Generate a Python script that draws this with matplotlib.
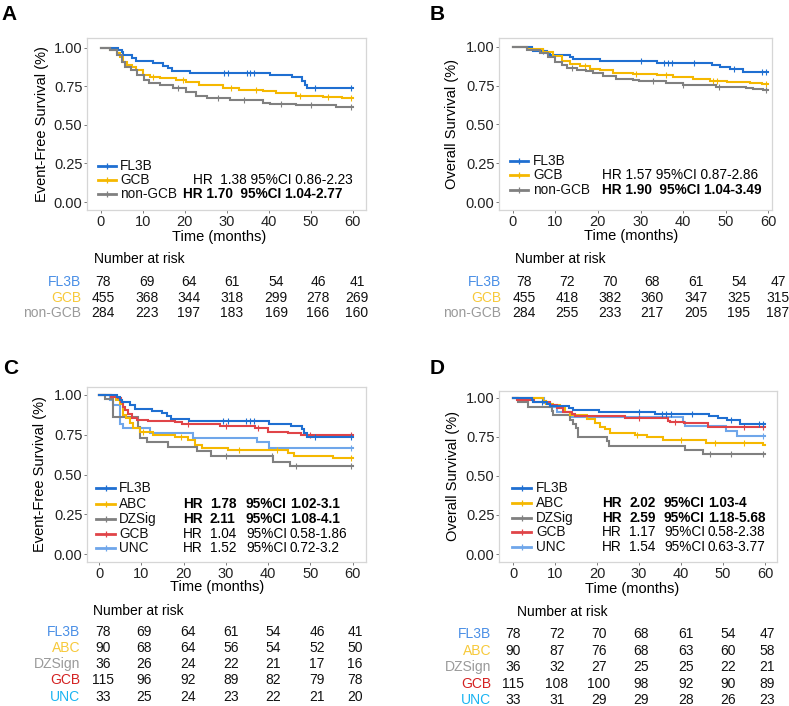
import numpy as np
import matplotlib
matplotlib.use("Agg")
import matplotlib.pyplot as plt
from matplotlib.lines import Line2D

plt.rcParams['font.family'] = ['Liberation Sans', 'DejaVu Sans']

W, H = 789, 706

# ---------------- data ----------------
times_ticks = [0, 10, 20, 30, 40, 50, 60]
yticks = [0.0, 0.25, 0.5, 0.75, 1.0]
ytick_labels = ["0.00", "0.25", "0.50", "0.75", "1.00"]

# Panel A: Event-free survival, FL3B / GCB / non-GCB
A_FL3B_t = [0, 4.2, 5.0, 5.4, 7.4, 8.5, 12.5, 14.8, 16.0, 17.0, 21.3, 40.3, 45.5, 47.9, 48.6, 49.2, 60]
A_FL3B_s = [1.0, 0.985, 0.97, 0.955, 0.936, 0.914, 0.899, 0.884, 0.867, 0.849, 0.836, 0.82, 0.807, 0.785, 0.759, 0.737, 0.737]
A_FL3B_c = [29.4, 30.4, 34.8, 35.6, 36.6, 51.0, 59.5]
A_GCB_t = [0, 2.2, 3.8, 4.6, 5.4, 6.2, 7.4, 8.5, 10.1, 11.7, 14.1, 18.0, 20.4, 23.5, 29.1, 33.0, 38.6, 41.8, 46.5, 52.9, 57.5, 60]
A_GCB_s = [1.0, 0.985, 0.964, 0.942, 0.906, 0.888, 0.873, 0.856, 0.823, 0.808, 0.802, 0.791, 0.78, 0.759, 0.742, 0.729, 0.72, 0.705, 0.69, 0.681, 0.673, 0.673]
A_GCB_c = [12.5, 19.5, 31.0, 37.0, 47.5, 54.0, 59.5]
A_NON_t = [0, 2.2, 3.8, 5.1, 5.9, 7.1, 8.7, 10.3, 11.5, 14.1, 17.3, 20.4, 22.8, 25.2, 29.1, 30.7, 35.4, 38.6, 40.2, 46.5, 56.0, 60]
A_NON_s = [1.0, 0.985, 0.953, 0.91, 0.878, 0.856, 0.823, 0.791, 0.77, 0.759, 0.737, 0.716, 0.69, 0.677, 0.673, 0.664, 0.66, 0.64, 0.634, 0.63, 0.617, 0.617]
A_NON_c = [18.5, 28.0, 34.0, 43.0, 50.0, 59.5]

# Panel B: Overall survival, FL3B / GCB / non-GCB
B_FL3B_t = [0, 4.5, 4.8, 8.0, 8.7, 13.4, 14.2, 20.5, 33.8, 46.7, 48.7, 51.0, 54.1, 60]
B_FL3B_s = [1.0, 0.987, 0.974, 0.962, 0.949, 0.936, 0.923, 0.91, 0.897, 0.884, 0.872, 0.859, 0.835, 0.835]
B_FL3B_c = [7.0, 30.0, 35.5, 36.5, 37.5, 42.5, 52.0, 58.5, 59.5]
B_GCB_t = [0, 3.3, 7.2, 9.5, 11.5, 13.4, 15.8, 18.1, 20.5, 23.6, 28.3, 33.8, 37.7, 42.4, 46.3, 50.2, 55.6, 58.5, 60]
B_GCB_s = [1.0, 0.987, 0.966, 0.938, 0.91, 0.889, 0.874, 0.859, 0.853, 0.831, 0.824, 0.816, 0.803, 0.79, 0.777, 0.771, 0.766, 0.762, 0.762]
B_GCB_c = [17.0, 29.0, 36.0, 47.0, 48.0, 59.5]
B_NON_t = [0, 3.3, 6.4, 8.3, 9.9, 11.5, 12.7, 15.0, 17.3, 18.9, 21.2, 24.3, 28.2, 29.7, 36.0, 39.9, 47.7, 54.8, 56.4, 58.7, 60]
B_NON_s = [1.0, 0.98, 0.96, 0.932, 0.901, 0.884, 0.863, 0.848, 0.841, 0.831, 0.809, 0.794, 0.788, 0.777, 0.764, 0.751, 0.738, 0.734, 0.727, 0.72, 0.72]
B_NON_c = [14.0, 33.0, 40.0, 48.5, 59.5]

# Panel C: Event-free survival, FL3B / ABC / DZSig / GCB / UNC
C_ABC_t = [0, 2.9, 4.1, 4.9, 5.7, 6.5, 7.3, 8.1, 9.6, 12.8, 17.9, 21.1, 22.7, 24.3, 30.6, 44.8, 46.0, 55.4, 60]
C_ABC_s = [1.0, 0.99, 0.969, 0.941, 0.874, 0.853, 0.822, 0.794, 0.769, 0.748, 0.734, 0.717, 0.686, 0.665, 0.654, 0.633, 0.619, 0.606, 0.606]
C_ABC_c = [10.5, 19.5, 33.0, 42.0, 59.5]
C_DZ_t = [0, 1.5, 3.3, 9.3, 9.7, 11.3, 16.4, 23.1, 26.6, 41.2, 45.2, 60]
C_DZ_s = [1.0, 0.972, 0.864, 0.80, 0.728, 0.707, 0.671, 0.65, 0.616, 0.581, 0.553, 0.553]
C_DZ_c = [30.0, 41.0, 46.5, 59.5]
C_GCB_t = [0, 2.9, 4.5, 5.3, 5.7, 6.1, 6.9, 7.7, 8.9, 11.6, 18.0, 19.6, 28.5, 36.8, 39.9, 44.6, 47.8, 60]
C_GCB_s = [1.0, 0.99, 0.979, 0.958, 0.927, 0.906, 0.878, 0.857, 0.845, 0.836, 0.828, 0.816, 0.803, 0.79, 0.769, 0.763, 0.748, 0.748]
C_GCB_c = [21.0, 30.0, 37.5, 50.0, 59.5]
C_UNC_t = [0, 2.5, 3.3, 4.9, 5.7, 12.0, 22.3, 37.4, 40.1, 60]
C_UNC_s = [1.0, 0.969, 0.937, 0.816, 0.79, 0.759, 0.728, 0.702, 0.669, 0.669]
C_UNC_c = [59.5]

# Panel D: Overall survival, FL3B / ABC / DZSig / GCB / UNC
D_ABC_t = [0, 7.1, 7.9, 9.6, 11.1, 12.3, 13.5, 17.5, 19.5, 20.6, 21.8, 23.0, 29.0, 31.8, 35.7, 46.0, 59.5, 60]
D_ABC_s = [1.0, 0.981, 0.962, 0.955, 0.934, 0.912, 0.891, 0.863, 0.838, 0.816, 0.799, 0.778, 0.763, 0.748, 0.731, 0.709, 0.699, 0.699]
D_ABC_c = [29.5, 40.0, 48.0, 55.0]
D_DZ_t = [0, 1.3, 3.6, 9.2, 9.6, 13.6, 14.4, 15.0, 15.5, 22.3, 22.9, 41.0, 45.2, 60]
D_DZ_s = [1.0, 0.972, 0.944, 0.917, 0.889, 0.861, 0.833, 0.806, 0.75, 0.722, 0.694, 0.667, 0.639, 0.639]
D_DZ_c = [47.0, 52.0, 59.5]
D_GCB_t = [0, 1.0, 4.9, 8.8, 10.4, 12.0, 14.0, 14.8, 26.7, 37.0, 37.4, 40.6, 46.5, 60]
D_GCB_s = [1.0, 0.986, 0.973, 0.958, 0.934, 0.912, 0.897, 0.885, 0.87, 0.855, 0.844, 0.838, 0.815, 0.815]
D_GCB_c = [30.0, 38.5, 55.0, 59.5]
D_UNC_t = [0, 7.4, 8.8, 10.5, 13.5, 40.4, 41.0, 50.7, 53.4, 60]
D_UNC_s = [1.0, 0.97, 0.94, 0.909, 0.879, 0.848, 0.818, 0.788, 0.758, 0.758]
D_UNC_c = [59.5]

# risk tables
A_groups = ["FL3B", "GCB", "non-GCB"]
A_risk = [[78, 69, 64, 61, 54, 46, 41],
          [455, 368, 344, 318, 299, 278, 269],
          [284, 223, 197, 183, 169, 166, 160]]
B_risk = [[78, 72, 70, 68, 61, 54, 47],
          [455, 418, 382, 360, 347, 325, 315],
          [284, 255, 233, 217, 205, 195, 187]]
C_groups = ["FL3B", "ABC", "DZSign", "GCB", "UNC"]
C_risk = [[78, 69, 64, 61, 54, 46, 41],
          [90, 68, 64, 56, 54, 52, 50],
          [36, 26, 24, 22, 21, 17, 16],
          [115, 96, 92, 89, 82, 79, 78],
          [33, 25, 24, 23, 22, 21, 20]]
D_risk = [[78, 72, 70, 68, 61, 54, 47],
          [90, 87, 76, 68, 63, 60, 58],
          [36, 32, 27, 25, 25, 22, 21],
          [115, 108, 100, 98, 92, 90, 89],
          [33, 31, 29, 29, 28, 26, 23]]

A_leg = ["FL3B", "GCB", "non-GCB"]
A_hr = [None, ("HR  1.38 95%CI 0.86-2.23", False), ("HR 1.70  95%CI 1.04-2.77", True)]
B_hr = [None, ("HR 1.57 95%CI 0.87-2.86", False), ("HR 1.90  95%CI 1.04-3.49", True)]
CD_leg = ["FL3B", "ABC", "DZSig", "GCB", "UNC"]
C_hr = [None, ("HR", "1.78", "95%CI", "1.02-3.1", True),
        ("HR", "2.11", "95%CI", "1.08-4.1", True),
        ("HR", "1.04", "95%CI", "0.58-1.86", False),
        ("HR", "1.52", "95%CI", "0.72-3.2", False)]
D_hr = [None, ("HR", "2.02", "95%CI", "1.03-4", True),
        ("HR", "2.59", "95%CI", "1.18-5.68", True),
        ("HR", "1.17", "95%CI", "0.58-2.38", False),
        ("HR", "1.54", "95%CI", "0.63-3.77", False)]

# ---------------- styles ----------------
C_BLUE = "#1f6fd1"
C_YEL = "#f5b800"
C_GRAY = "#808080"
C_RED = "#e04448"
C_LBLUE = "#6fa6ea"
T_BLUE = "#4a8fe6"
T_YEL = "#f7c93a"
T_GRAY = "#9a9a9a"
T_RED = "#d42222"
T_CYAN = "#1ab4f2"

fig = plt.figure(figsize=(W / 100, H / 100), dpi=100)


def fx(x):
    return x / W


def fy(y):
    return 1 - y / H


def make_ax(l, t, r, b, x0px, x60px, y1px, y0px):
    ax = fig.add_axes([fx(l), fy(b), fx(r) - fx(l), fy(t) - fy(b)])
    ppm = (x60px - x0px) / 60.0
    ax.set_xlim(-(x0px - l) / ppm, 60 + (r - x60px) / ppm)
    ppu = (y0px - y1px)
    ax.set_ylim(-(b - y0px) / ppu, 1 + (y1px - t) / ppu)
    ax.set_xticks(times_ticks)
    ax.set_yticks(yticks)
    ax.set_yticklabels(ytick_labels)
    ax.tick_params(length=2.5, width=0.6, color="#666666", labelsize=10.5,
                   labelcolor="#222222", pad=0.8)
    for s in ax.spines.values():
        s.set_color("#d6d6d6")
        s.set_linewidth(0.9)
    return ax


def curve(ax, t, s, c, color):
    ax.step(t, s, where="post", color=color, lw=1.5, solid_joinstyle="miter")
    if c:
        tt = np.asarray(t)
        ss = np.asarray(s)
        cy = [ss[np.searchsorted(tt, v, side="right") - 1] for v in c]
        ax.plot(c, cy, ls="none", marker="|", ms=4, mew=0.8, color=color)


def ftext(x, y, s, **kw):
    fig.text(fx(x), fy(y), s, **kw)


def leg_key(x1, x2, y, color):
    fig.add_artist(Line2D([fx(x1), fx(x2)], [fy(y), fy(y)], color=color, lw=2.0,
                          transform=fig.transFigure))
    fig.add_artist(Line2D([fx((x1 + x2) / 2)], [fy(y)], color=color, marker="|", ms=5,
                          mew=0.9, ls="none", transform=fig.transFigure))


def risk_table(cols, rows, labx, groups, colors, data):
    for gi, g in enumerate(groups):
        ftext(labx, rows[gi], g, ha="right", va="center", fontsize=10, color=colors[gi])
        for ci, v in enumerate(data[gi]):
            ftext(cols[ci], rows[gi], str(v), ha="center", va="center", fontsize=10, color="#111111")


# ---------------- Panel A ----------------
axA = make_ax(87, 38, 366, 210, 100.7, 352.7, 47.7, 202)
curve(axA, A_FL3B_t, A_FL3B_s, A_FL3B_c, C_BLUE)
curve(axA, A_GCB_t, A_GCB_s, A_GCB_c, C_YEL)
curve(axA, A_NON_t, A_NON_s, A_NON_c, C_GRAY)
ftext(9, 14, "A", ha="center", va="center", fontsize=15, fontweight="bold")
ftext(42, 124, "Event-Free Survival (%)", rotation=90, ha="center", va="center", fontsize=10.5)
ftext(219, 237, "Time (months)", ha="center", va="center", fontsize=10.5)
ftext(94, 259, "Number at risk", ha="left", va="center", fontsize=10)
for i, (name, col) in enumerate(zip(A_leg, [C_BLUE, C_YEL, C_GRAY])):
    y = [166, 180, 194][i]
    leg_key(98, 116, y, col)
    ftext(120, y, name, ha="left", va="center", fontsize=9.8, color="#111111")
ftext(193, 180, A_hr[1][0], ha="left", va="center", fontsize=9.8)
ftext(183, 194, A_hr[2][0], ha="left", va="center", fontsize=9.8, fontweight="bold")
risk_table([103, 147, 189, 232, 276, 318, 357], [282, 298, 313], 81, A_groups,
           [T_BLUE, T_YEL, T_GRAY], A_risk)

# ---------------- Panel B ----------------
axB = make_ax(499, 38, 772, 210, 512.7, 768.3, 46.7, 202)
curve(axB, B_FL3B_t, B_FL3B_s, B_FL3B_c, C_BLUE)
curve(axB, B_GCB_t, B_GCB_s, B_GCB_c, C_YEL)
curve(axB, B_NON_t, B_NON_s, B_NON_c, C_GRAY)
ftext(437, 14, "B", ha="center", va="center", fontsize=15, fontweight="bold")
ftext(452, 124, "Overall Survival (%)", rotation=90, ha="center", va="center", fontsize=10.5)
ftext(631, 236, "Time (months)", ha="center", va="center", fontsize=10.5)
ftext(515, 259, "Number at risk", ha="left", va="center", fontsize=10)
for i, (name, col) in enumerate(zip(A_leg, [C_BLUE, C_YEL, C_GRAY])):
    y = [161, 175, 190][i]
    leg_key(510, 528, y, col)
    ftext(533, y, name, ha="left", va="center", fontsize=9.8, color="#111111")
ftext(602, 175, B_hr[1][0], ha="left", va="center", fontsize=9.8)
ftext(602, 190, B_hr[2][0], ha="left", va="center", fontsize=9.8, fontweight="bold")
risk_table([524, 567, 610, 652, 696, 739, 778], [282, 298, 313], 501, A_groups,
           [T_BLUE, T_YEL, T_GRAY], B_risk)

# ---------------- Panel C ----------------
axC = make_ax(87, 387, 366, 562, 99, 352.7, 395, 554)
curve(axC, C_UNC_t, C_UNC_s, C_UNC_c, C_LBLUE)
curve(axC, C_DZ_t, C_DZ_s, C_DZ_c, C_GRAY)
curve(axC, C_ABC_t, C_ABC_s, C_ABC_c, C_YEL)
curve(axC, C_GCB_t, C_GCB_s, C_GCB_c, C_RED)
curve(axC, A_FL3B_t, A_FL3B_s, A_FL3B_c, C_BLUE)
ftext(11, 369, "C", ha="center", va="center", fontsize=15, fontweight="bold")
ftext(40, 474, "Event-Free Survival (%)", rotation=90, ha="center", va="center", fontsize=10.5)
ftext(217, 587, "Time (months)", ha="center", va="center", fontsize=10.5)
ftext(93, 611, "Number at risk", ha="left", va="center", fontsize=10)
cd_cols = [C_BLUE, C_YEL, C_GRAY, C_RED, C_LBLUE]
for i, (name, col) in enumerate(zip(CD_leg, cd_cols)):
    y = [488, 504, 519, 534, 548][i]
    leg_key(96, 115, y, col)
    ftext(119, y, name, ha="left", va="center", fontsize=9.8, color="#111111")
    if C_hr[i]:
        h = C_hr[i]
        fw = "bold" if h[4] else "normal"
        for xx, part in zip([183, 210, 246, 290], h[:4]):
            ftext(xx, y, part, ha="left", va="center", fontsize=9.8, fontweight=fw)
risk_table([103, 144, 188, 231, 273, 317, 355], [632, 648, 664, 680, 697], 80, C_groups,
           [T_BLUE, T_YEL, T_GRAY, T_RED, T_CYAN], C_risk)

# ---------------- Panel D ----------------
axD = make_ax(499, 391, 777, 562, 513, 765, 398, 554)
curve(axD, D_UNC_t, D_UNC_s, D_UNC_c, C_LBLUE)
curve(axD, D_DZ_t, D_DZ_s, D_DZ_c, C_GRAY)
curve(axD, D_ABC_t, D_ABC_s, D_ABC_c, C_YEL)
curve(axD, D_GCB_t, D_GCB_s, D_GCB_c, C_RED)
curve(axD, B_FL3B_t, B_FL3B_s, B_FL3B_c, C_BLUE)
ftext(437, 369, "D", ha="center", va="center", fontsize=15, fontweight="bold")
ftext(453, 476, "Overall Survival (%)", rotation=90, ha="center", va="center", fontsize=10.5)
ftext(632, 589, "Time (months)", ha="center", va="center", fontsize=10.5)
ftext(517, 612, "Number at risk", ha="left", va="center", fontsize=10)
for i, (name, col) in enumerate(zip(CD_leg, cd_cols)):
    y = [488, 503, 518, 532, 547][i]
    leg_key(512, 531, y, col)
    ftext(536, y, name, ha="left", va="center", fontsize=9.8, color="#111111")
    if D_hr[i]:
        h = D_hr[i]
        fw = "bold" if h[4] else "normal"
        for xx, part in zip([602, 629, 664, 708], h[:4]):
            ftext(xx, y, part, ha="left", va="center", fontsize=9.8, fontweight=fw)
risk_table([513, 557, 599, 641, 686, 728, 767], [634, 651, 667, 684, 700], 491, C_groups,
           [T_BLUE, T_YEL, T_GRAY, T_RED, T_CYAN], D_risk)

fig.savefig("out.png", dpi=100)
